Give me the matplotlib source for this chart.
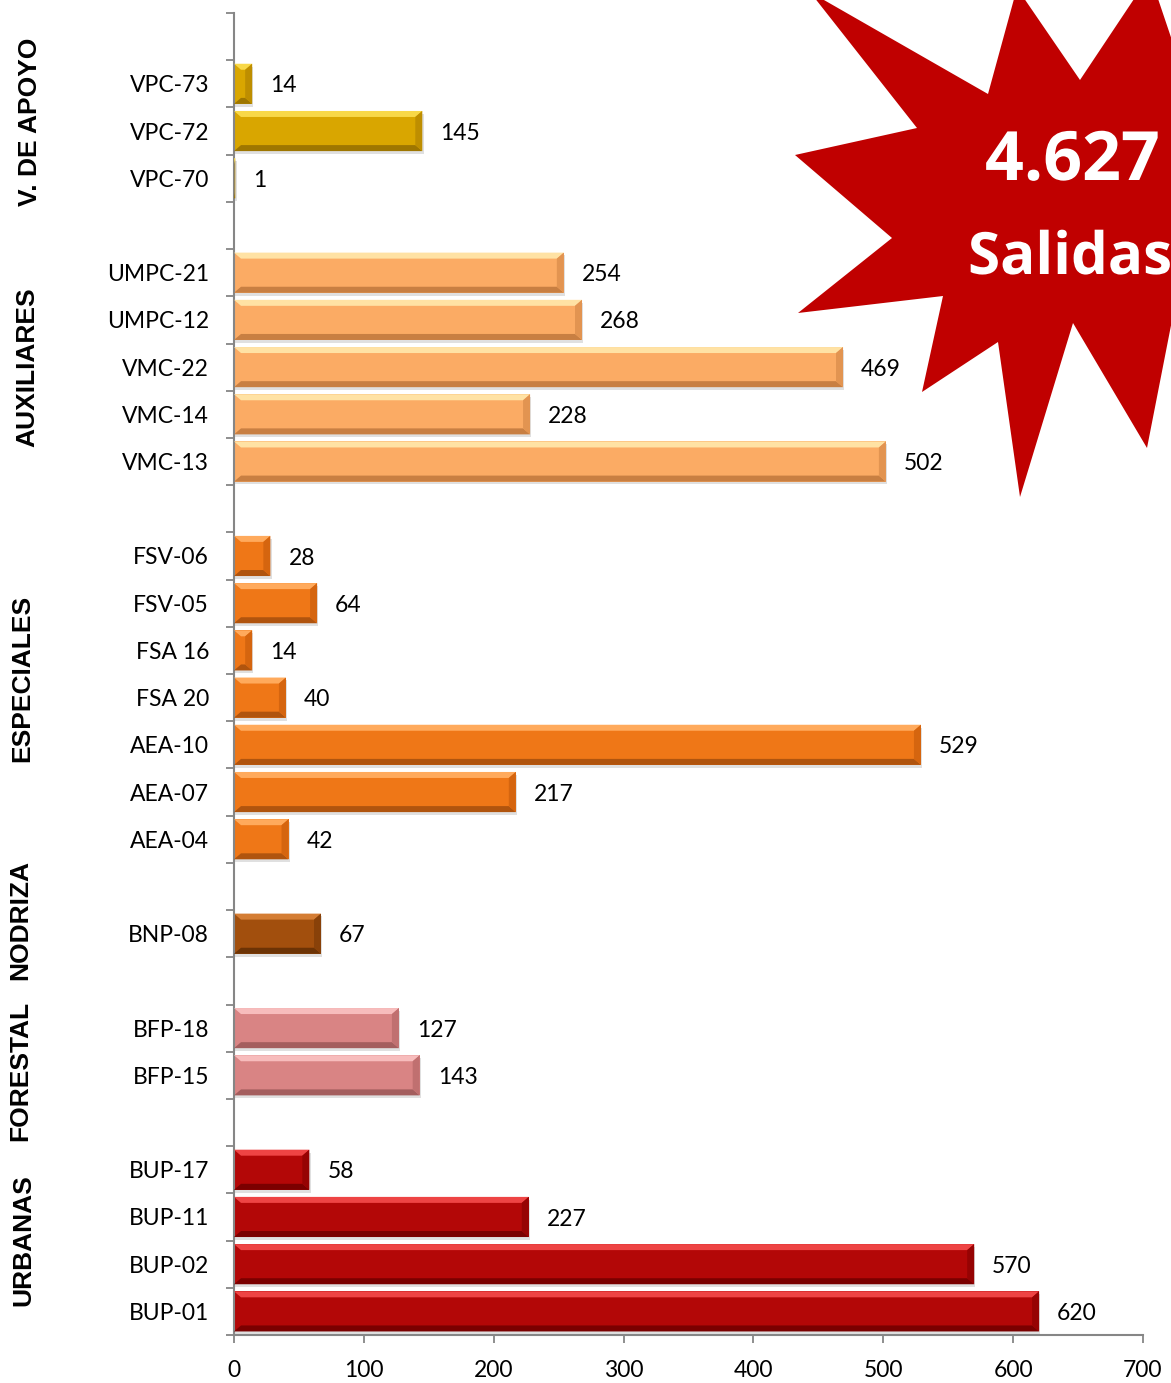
import matplotlib
matplotlib.use("Agg")
import matplotlib.pyplot as plt
from matplotlib.patches import Polygon
import matplotlib.patheffects as pe
import numpy as np

# ---------------- data ----------------
groups = ["URBANAS", "FORESTAL", "NODRIZA", "ESPECIALES", "AUXILIARES", "V. DE APOYO"]
group_units = [
    ["BUP-01", "BUP-02", "BUP-11", "BUP-17"],
    ["BFP-15", "BFP-18"],
    ["BNP-08"],
    ["AEA-04", "AEA-07", "AEA-10", "FSA 20", "FSA 16", "FSV-05", "FSV-06"],
    ["VMC-13", "VMC-14", "VMC-22", "UMPC-12", "UMPC-21"],
    ["VPC-70", "VPC-72", "VPC-73"],
]
group_values = [
    [620, 570, 227, 58],
    [143, 127],
    [67],
    [42, 217, 529, 40, 14, 64, 28],
    [502, 228, 469, 268, 254],
    [1, 145, 14],
]
x_ticks = [0, 100, 200, 300, 400, 500, 600, 700]
total_label = "4.627"
total_word = "Salidas"

# ---------------- style ----------------
# (main, top highlight, bottom shade, right shade)
group_colors = [
    ("#B30707", "#EE4444", "#7A0000", "#960303"),
    ("#D98484", "#F7BCBC", "#A45E5E", "#C07070"),
    ("#A24F0D", "#D47D34", "#6C3305", "#884109"),
    ("#EF7717", "#FFAA5C", "#B0540E", "#D5650F"),
    ("#FBAB64", "#FFE2A4", "#C87F42", "#E29451"),
    ("#D9A600", "#F8D848", "#9E7600", "#BE8E00"),
]
label_font = ["Lato", "DejaVu Sans"]
group_font = ["Liberation Sans", "DejaVu Sans"]
star_font = ["Open Sans", "DejaVu Sans"]

W, H = 1171, 1383
fig = plt.figure(figsize=(W / 100, H / 100), dpi=100)
ax = fig.add_axes([234 / W, (H - 1335) / H, (1143 - 234) / W, (1335 - 13) / H])

# build slot positions (bottom to top), one empty slot after each group
positions, labels, values, gidx = [], [], [], []
slot = 0
for g, (units, vals) in enumerate(zip(group_units, group_values)):
    for u, v in zip(units, vals):
        positions.append(slot)
        labels.append(u)
        values.append(v)
        gidx.append(g)
        slot += 1
    slot += 1
n_slots = slot

bar_h = 0.85
px_per_unit = (1143 - 234) / 700.0
px_per_slot = (1335 - 13) / n_slots
bev_x = 7 / px_per_unit
bev_y = 6 / px_per_slot

for y, v, g in zip(positions, values, gidx):
    main, top, bot, right = group_colors[g]
    # soft shadow
    ax.barh(y - 0.06, v, height=bar_h, left=1.0, color="#000000", alpha=0.12, zorder=1, linewidth=0)
    ax.barh(y, v, height=bar_h, color=main, zorder=2, linewidth=0)
    dx = min(bev_x, v / 2)
    y0, y1 = y - bar_h / 2, y + bar_h / 2
    polys = [
        ([(0, y1), (v, y1), (v - dx, y1 - bev_y), (dx, y1 - bev_y)], top),
        ([(0, y0), (v, y0), (v - dx, y0 + bev_y), (dx, y0 + bev_y)], bot),
        ([(v, y0), (v, y1), (v - dx, y1 - bev_y), (v - dx, y0 + bev_y)], right),
    ]
    for pts, c in polys:
        ax.add_patch(Polygon(pts, closed=True, facecolor=c, edgecolor="none", zorder=3))
    ax.annotate(str(v), (v, y), xytext=(13, -1.5), textcoords="offset points",
                ha="left", va="center", fontsize=16.5, family=label_font, color="#000000")

ax.set_xlim(0, 700)
ax.set_ylim(-0.5, n_slots - 0.5)
ax.set_yticks(positions)
ax.set_yticklabels(labels, fontsize=16.5, family=label_font)
ax.set_yticks(np.arange(-0.5, n_slots, 1.0), minor=True)
ax.tick_params(axis="y", which="major", length=0, pad=18)
ax.tick_params(axis="y", which="minor", length=6, width=1.3, color="#868686", direction="out")
ax.set_xticks(x_ticks)
ax.set_xticklabels([str(t) for t in x_ticks], fontsize=16.5, family=label_font)
ax.tick_params(axis="x", length=6, width=1.3, color="#868686", pad=12)

for s in ["top", "right"]:
    ax.spines[s].set_visible(False)
for s in ["left", "bottom"]:
    ax.spines[s].set_color("#868686")
    ax.spines[s].set_linewidth(1.5)

# group labels
group_label_y = [1.5, 5.1, 8.3, 13.4, 20.0, 25.2]
group_label_x = [23, 20, 20, 22, 27, 30]
trans = matplotlib.transforms.blended_transform_factory(fig.transFigure, ax.transData)
for name, gy, gx in zip(groups, group_label_y, group_label_x):
    fig.text(gx / W, gy, name, transform=trans, rotation=90, ha="center", va="center",
             fontsize=19, fontweight="bold", family=group_font, color="#000000")

# star burst (decoration in figure pixel coordinates)
star_px = [(810, -8), (988, 94), (1017, -12), (1080, 80), (1150, -25), (1182, 70),
           (1300, 100), (1300, 290), (1175, 305), (1147, 448), (1073, 323), (1020, 497),
           (998, 342), (922, 392), (943, 296), (798, 313), (892, 238), (795, 155), (917, 128)]
star_fig = [(x / W, 1 - y / H) for x, y in star_px]
fig.add_artist(Polygon(star_fig, closed=True, facecolor="#C00000", edgecolor="none",
                       transform=fig.transFigure, zorder=5))
fx = [pe.SimpleLineShadow(offset=(1.5, -1.5), shadow_color="#400000", alpha=0.6), pe.Normal()]
fig.text(985 / W, 1 - 162 / H, total_label, ha="left", va="center", fontsize=49,
         fontweight="bold", color="white", family=star_font, zorder=6, path_effects=fx)
fig.text(968 / W, 1 - 259 / H, total_word, ha="left", va="center", fontsize=42,
         fontweight="bold", color="white", family=star_font, zorder=6, path_effects=fx)

fig.savefig("out.png", dpi=100)
